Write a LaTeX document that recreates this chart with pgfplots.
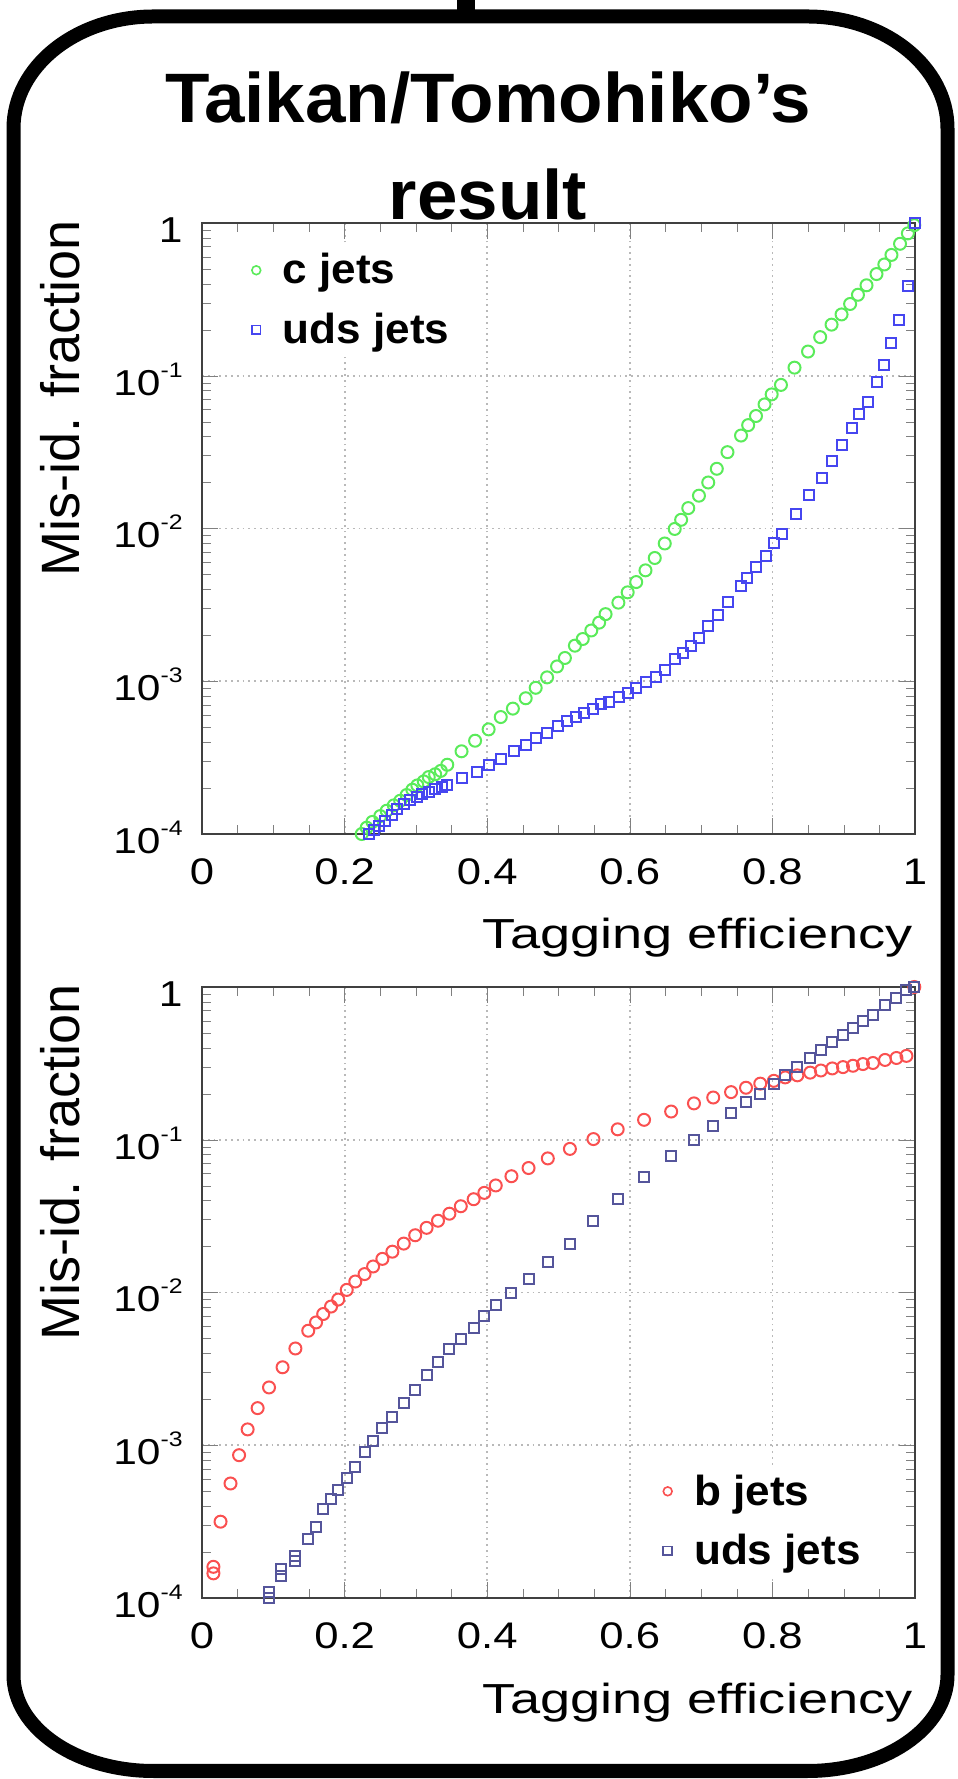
\documentclass[border=0pt]{standalone}
\usepackage{fontspec}
\setmainfont{Liberation Sans}
\newfontfamily\tickfam[FakeStretch=1.18]{Liberation Sans}
\newfontfamily\xlabfam[FakeStretch=1.29]{Liberation Sans}
\newfontfamily\legfam[FakeStretch=1.05]{Liberation Sans}
\newfontfamily\titlefam[FakeStretch=1.04]{Liberation Sans}
\usepackage{pgfplots}
\pgfplotsset{compat=1.18}

\definecolor{cgreen}{RGB}{90,235,90}
\definecolor{ublue}{RGB}{70,70,240}
\definecolor{bred}{RGB}{250,80,80}
\definecolor{unavy}{RGB}{85,85,155}

\newcommand\tp[1]{10\raisebox{9pt}{\fontsize{10.5pt}{10.5pt}\selectfont #1}}

\pgfplotsset{every axis/.append style={
  scale only axis, width=356.5pt, height=305.5pt,
  xmin=0, xmax=1, ymin=0.0001, ymax=1, clip=false,
  xtick={0,0.2,0.4,0.6,0.8,1}, xticklabels={0,0.2,0.4,0.6,0.8,1},
  minor xtick={0.05,0.1,0.15,0.25,0.3,0.35,0.45,0.5,0.55,0.65,0.7,0.75,0.85,0.9,0.95},
  tick align=inside, xtick pos=both, ytick pos=both,
  xticklabel pos=lower, yticklabel pos=left,
  major tick length=8pt, minor tick length=4.5pt,
  grid=major,
  major grid style={gray!55, line width=0.9pt, dotted},
  axis line style={black!75, line width=1.2pt},
  xticklabel style={font=\tickfam\fontsize{18.5pt}{18.5pt}\selectfont, anchor=base, inner sep=0pt, yshift=-25pt},
  yticklabel style={font=\tickfam\fontsize{18pt}{18pt}\selectfont, anchor=base east, inner sep=0pt, xshift=-9.5pt, yshift=-9.75pt},
  xlabel style={font=\xlabfam\fontsize{21pt}{21pt}\selectfont, inner sep=0pt, anchor=base east,
                at={(axis description cs:0.9972,-0.1882)}},
  ylabel style={font=\fontsize{27pt}{27pt}\selectfont, inner sep=0pt, anchor=base east,
                at={(axis description cs:-0.1725,1.0049)}},
  legend style={draw=none, fill=white, inner xsep=3pt, inner ysep=3pt,
                font=\legfam\bfseries\fontsize{21pt}{25pt}\selectfont,
                cells={anchor=west}, row sep=9pt, column sep=9pt, anchor=north west},
  legend image post style={mark size=2.2pt, line width=0.8pt},
}}

\begin{document}
\begin{tikzpicture}
\path[use as bounding box] (0,0) rectangle (479pt,889.5pt);

% ---------------- top panel ----------------
\begin{axis}[ymode=log, at={(101pt,472.5pt)}, anchor=south west,
  ytick={0.0001,0.001,0.01,0.1,1},
  yticklabels={\tp{-4},\tp{-3},\tp{-2},\tp{-1},1},
  minor ytick={0.0002,0.0003,0.0004,0.0005,0.0006,0.0007,0.0008,0.0009,
               0.002,0.003,0.004,0.005,0.006,0.007,0.008,0.009,
               0.02,0.03,0.04,0.05,0.06,0.07,0.08,0.09,
               0.2,0.3,0.4,0.5,0.6,0.7,0.8,0.9},
  xlabel={Tagging efficiency}, ylabel={Mis-id. fraction},
  legend style={at={(axis description cs:0.061,0.967)}}]
\addplot[only marks, mark=o, mark size=3pt, color=cgreen, line width=1pt] coordinates {
(0.224,1.00e-4) (0.231,1.10e-4) (0.239,1.20e-4) (0.250,1.31e-4) (0.259,1.42e-4)
(0.269,1.54e-4) (0.278,1.65e-4) (0.287,1.80e-4) (0.295,1.95e-4) (0.302,2.08e-4)
(0.311,2.21e-4) (0.318,2.36e-4) (0.327,2.46e-4) (0.335,2.59e-4) (0.344,2.84e-4)
(0.364,3.48e-4) (0.383,4.08e-4) (0.402,4.84e-4) (0.419,5.83e-4) (0.436,6.62e-4)
(0.454,7.74e-4) (0.468,9.06e-4) (0.484,1.06e-3) (0.498,1.25e-3) (0.509,1.42e-3)
(0.523,1.71e-3) (0.534,1.89e-3) (0.546,2.15e-3) (0.557,2.42e-3) (0.566,2.75e-3)
(0.584,3.27e-3) (0.597,3.82e-3) (0.609,4.46e-3) (0.622,5.32e-3) (0.635,6.41e-3)
(0.649,7.98e-3) (0.663,9.93e-3) (0.672,1.14e-2) (0.682,1.36e-2) (0.697,1.64e-2)
(0.710,2.00e-2) (0.722,2.46e-2) (0.737,3.16e-2) (0.756,4.06e-2) (0.766,4.75e-2)
(0.777,5.45e-2) (0.789,6.49e-2) (0.799,7.55e-2) (0.812,8.71e-2) (0.831,0.113)
(0.850,0.144) (0.867,0.179) (0.883,0.216) (0.897,0.252) (0.909,0.295)
(0.920,0.339) (0.932,0.391) (0.946,0.463) (0.957,0.535) (0.967,0.618)
(0.979,0.731) (0.990,0.855) (0.999,0.968)
};
\addlegendentry{c jets}
\addplot[only marks, mark=square, mark size=2.5pt, color=ublue, line width=1pt] coordinates {
(0.234,1.00e-4) (0.241,1.06e-4) (0.248,1.13e-4) (0.257,1.22e-4) (0.266,1.34e-4)
(0.274,1.46e-4) (0.283,1.57e-4) (0.292,1.67e-4) (0.301,1.76e-4) (0.309,1.84e-4)
(0.318,1.89e-4) (0.327,1.98e-4) (0.336,2.04e-4) (0.344,2.10e-4) (0.365,2.33e-4)
(0.385,2.54e-4) (0.403,2.84e-4) (0.419,3.08e-4) (0.438,3.48e-4) (0.454,3.84e-4)
(0.468,4.22e-4) (0.484,4.60e-4) (0.499,5.06e-4) (0.512,5.48e-4) (0.525,5.83e-4)
(0.536,6.21e-4) (0.548,6.62e-4) (0.559,7.05e-4) (0.571,7.36e-4) (0.585,7.83e-4)
(0.597,8.34e-4) (0.609,9.06e-4) (0.623,9.93e-4) (0.637,1.07e-3) (0.650,1.18e-3)
(0.664,1.40e-3) (0.674,1.54e-3) (0.686,1.69e-3) (0.697,1.92e-3) (0.710,2.31e-3)
(0.723,2.70e-3) (0.738,3.30e-3) (0.756,4.19e-3) (0.765,4.75e-3) (0.777,5.62e-3)
(0.791,6.62e-3) (0.802,7.98e-3) (0.813,9.16e-3) (0.833,1.24e-2) (0.851,1.66e-2)
(0.869,2.13e-2) (0.883,2.77e-2) (0.897,3.52e-2) (0.911,4.52e-2) (0.922,5.62e-2)
(0.934,6.75e-2) (0.946,9.10e-2) (0.957,0.118) (0.967,0.163) (0.978,0.230)
(0.990,0.384) (1.000,1.0)
};
\addlegendentry{uds jets}
\end{axis}

% ---------------- bottom panel ----------------
\begin{axis}[ymode=log, at={(101pt,90.5pt)}, anchor=south west,
  ytick={0.0001,0.001,0.01,0.1,1},
  yticklabels={\tp{-4},\tp{-3},\tp{-2},\tp{-1},1},
  minor ytick={0.0002,0.0003,0.0004,0.0005,0.0006,0.0007,0.0008,0.0009,
               0.002,0.003,0.004,0.005,0.006,0.007,0.008,0.009,
               0.02,0.03,0.04,0.05,0.06,0.07,0.08,0.09,
               0.2,0.3,0.4,0.5,0.6,0.7,0.8,0.9},
  xlabel={Tagging efficiency}, ylabel={Mis-id. fraction},
  legend style={at={(axis description cs:0.638,0.219)}}]
\addplot[only marks, mark=o, mark size=3pt, color=bred, line width=1pt] coordinates {
(0.016,1.45e-4) (0.016,1.60e-4) (0.026,3.16e-4) (0.040,5.62e-4) (0.052,8.61e-4)
(0.064,1.27e-3) (0.078,1.75e-3) (0.094,2.39e-3) (0.113,3.24e-3) (0.131,4.30e-3)
(0.149,5.62e-3) (0.160,6.37e-3) (0.170,7.23e-3) (0.181,8.09e-3) (0.191,8.99e-3)
(0.203,1.04e-2) (0.215,1.18e-2) (0.228,1.32e-2) (0.240,1.48e-2) (0.253,1.66e-2)
(0.267,1.85e-2) (0.283,2.09e-2) (0.299,2.37e-2) (0.315,2.65e-2) (0.331,2.95e-2)
(0.347,3.28e-2) (0.363,3.67e-2) (0.381,4.08e-2) (0.396,4.49e-2) (0.412,5.02e-2)
(0.434,5.77e-2) (0.458,6.53e-2) (0.485,7.55e-2) (0.516,8.71e-2) (0.549,0.101)
(0.583,0.117) (0.620,0.135) (0.658,0.153) (0.690,0.173) (0.717,0.189)
(0.742,0.205) (0.763,0.219) (0.783,0.233) (0.802,0.243) (0.818,0.256)
(0.835,0.264) (0.853,0.275) (0.868,0.284) (0.884,0.293) (0.899,0.299)
(0.913,0.305) (0.927,0.313) (0.941,0.318) (0.958,0.333) (0.974,0.343)
(0.988,0.354) (0.999,1.0)
};
\addlegendentry{b jets}
\addplot[only marks, mark=square, mark size=2.5pt, color=unavy, line width=1pt] coordinates {
(0.094,1.00e-4) (0.094,1.09e-4) (0.111,1.40e-4) (0.111,1.55e-4) (0.131,1.75e-4)
(0.131,1.88e-4) (0.149,2.42e-4) (0.160,2.92e-4) (0.170,3.82e-4) (0.181,4.46e-4)
(0.191,5.12e-4) (0.203,6.10e-4) (0.215,7.23e-4) (0.228,8.99e-4) (0.240,1.07e-3)
(0.253,1.29e-3) (0.267,1.54e-3) (0.283,1.88e-3) (0.299,2.30e-3) (0.315,2.88e-3)
(0.331,3.52e-3) (0.347,4.25e-3) (0.363,4.97e-3) (0.381,5.87e-3) (0.396,7.00e-3)
(0.412,8.28e-3) (0.434,9.89e-3) (0.458,1.23e-2) (0.485,1.58e-2) (0.516,2.09e-2)
(0.549,2.92e-2) (0.583,4.11e-2) (0.620,5.69e-2) (0.658,7.78e-2) (0.690,0.100)
(0.717,0.123) (0.742,0.150) (0.763,0.176) (0.783,0.199) (0.802,0.233)
(0.818,0.264) (0.835,0.299) (0.853,0.343) (0.868,0.384) (0.884,0.435)
(0.899,0.484) (0.913,0.542) (0.927,0.595) (0.941,0.653) (0.958,0.764)
(0.974,0.849) (0.988,0.951) (0.999,1.0)
};
\addlegendentry{uds jets}
\end{axis}

% ---------------- title and frame ----------------
\node[anchor=base, font=\titlefam\bfseries\fontsize{35pt}{35pt}\selectfont] at (244pt,828pt) {Taikan/Tomohiko’s};
\node[anchor=base, font=\titlefam\bfseries\fontsize{35pt}{35pt}\selectfont] at (244pt,779.5pt) {result};

\draw[line width=9pt] (233pt,878pt) -- (233pt,889.5pt);
\draw[line width=7pt, line join=round]
  (76.75pt,881.25pt) -- (403.75pt,881.25pt)
  arc[start angle=90, end angle=0, x radius=70pt, y radius=56pt]
  -- (473.75pt,52pt)
  arc[start angle=0, end angle=-90, x radius=70pt, y radius=48pt]
  -- (76.75pt,4pt)
  arc[start angle=270, end angle=180, x radius=70pt, y radius=48pt]
  -- (6.75pt,825.25pt)
  arc[start angle=180, end angle=90, x radius=70pt, y radius=56pt]
  -- cycle;
\end{tikzpicture}
\end{document}
